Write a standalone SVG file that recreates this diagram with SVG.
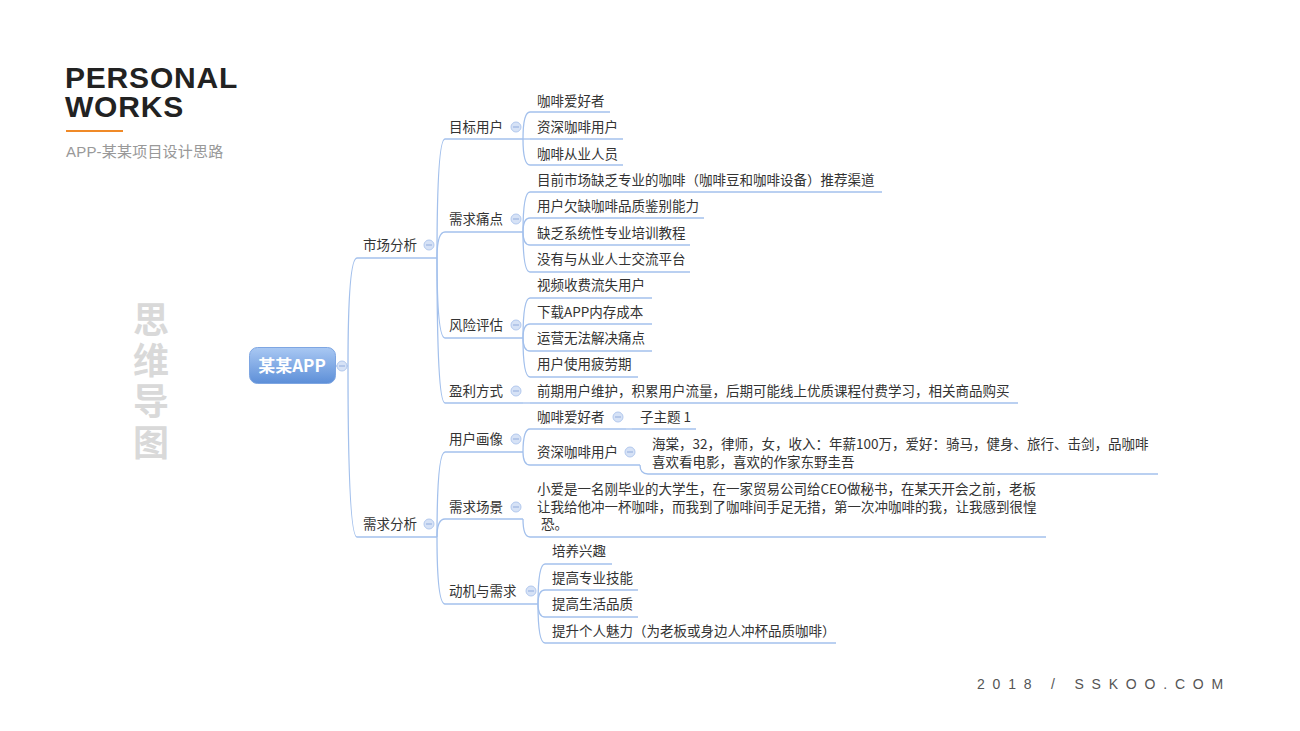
<svg xmlns="http://www.w3.org/2000/svg" width="1300" height="731" viewBox="0 0 1300 731">
<defs>
<linearGradient id="rootGrad" x1="0" y1="0" x2="0" y2="1">
<stop offset="0" stop-color="#a9c8f3"/>
<stop offset="1" stop-color="#5d8fd8"/>
</linearGradient>
<style>
.t{font-family:"Noto Sans CJK SC","Microsoft YaHei",sans-serif;font-size:13.5px;fill:#333}
.ln{fill:none;stroke:#a3c0ec;stroke-width:1.3}
.cc{fill:#d6e2f6;stroke:#b3c9ee;stroke-width:1}
.cm{stroke:#9db6e2;stroke-width:1.2}
</style>
</defs>
<rect width="1300" height="731" fill="#ffffff"/>

<g id="header">
<text x="65" y="88" font-family="Liberation Sans, Arial, sans-serif" font-weight="bold" font-size="30" letter-spacing="0.8" fill="#222">PERSONAL</text>
<text x="65" y="117" font-family="Liberation Sans, Arial, sans-serif" font-weight="bold" font-size="30" letter-spacing="0.8" fill="#222">WORKS</text>
<line x1="66" y1="131" x2="123" y2="131" stroke="#f08a28" stroke-width="2"/>
<text x="66" y="157" font-family="Liberation Sans, 'Noto Sans CJK SC', sans-serif" font-size="15" letter-spacing="0.2" fill="#999">APP-某某项目设计思路</text>
</g>

<g id="side-title">
<text x="151" y="301" writing-mode="vertical-rl" font-family="'Noto Sans CJK SC', sans-serif" font-weight="bold" font-size="36" letter-spacing="5" fill="#d9d9d9">思维导图</text>
</g>

<g id="footer">
<text x="977" y="689" font-family="Liberation Sans, Arial, sans-serif" font-size="14" fill="#555" letter-spacing="7.8">2018 / SSKOO.COM</text>
</g>

<g id="connectors">
<path class="ln" d="M335,366 L348,366"/>
<path class="ln" d="M348,366 Q348,258 357,258"/>
<path class="ln" d="M348,366 Q348,537 357,537"/>
<path class="ln" d="M437,258 Q437,139 445,139"/>
<path class="ln" d="M437,258 Q437,232 445,232"/>
<path class="ln" d="M437,258 Q437,338 445,338"/>
<path class="ln" d="M437,258 Q437,403 445,403"/>
<path class="ln" d="M437,537 Q437,452 445,452"/>
<path class="ln" d="M437,537 Q437,519 445,519"/>
<path class="ln" d="M437,537 Q437,604 445,604"/>
<path class="ln" d="M523,139 Q523,112 530,112"/>
<path class="ln" d="M523,139 L530,139"/>
<path class="ln" d="M523,139 Q523,165 530,165"/>
<path class="ln" d="M523,232 Q523,192 530,192"/>
<path class="ln" d="M523,232 Q523,218 530,218"/>
<path class="ln" d="M523,232 Q523,245 530,245"/>
<path class="ln" d="M523,232 Q523,272 530,272"/>
<path class="ln" d="M523,338 Q523,298 530,298"/>
<path class="ln" d="M523,338 Q523,324 530,324"/>
<path class="ln" d="M523,338 Q523,351 530,351"/>
<path class="ln" d="M523,338 Q523,377 530,377"/>
<path class="ln" d="M523,403 L530,403"/>
<path class="ln" d="M523,452 Q523,429 530,429"/>
<path class="ln" d="M523,452 Q523,465 530,465"/>
<path class="ln" d="M523,519 Q523,537 530,537"/>
<path class="ln" d="M538,604 Q538,564 545,564"/>
<path class="ln" d="M538,604 Q538,590 545,590"/>
<path class="ln" d="M538,604 Q538,617 545,617"/>
<path class="ln" d="M538,604 Q538,643 545,643"/>
<path class="ln" d="M626,429 L632,429"/>
<path class="ln" d="M640,465 Q640,474 648,474"/>
</g>

<g id="root">
<rect x="249.5" y="347.5" width="86" height="36" rx="8" fill="url(#rootGrad)" stroke="#7ea6e2"/>
<text x="292" y="372" text-anchor="middle" font-family="'Noto Sans CJK SC', sans-serif" font-weight="bold" font-size="17" fill="#fff">某某APP</text>
<circle class="cc" cx="342" cy="366" r="5"/><line class="cm" x1="339" y1="366" x2="345" y2="366"/>
</g>

<g id="n-market">
<text class="t" x="363" y="250">市场分析</text>
<path class="ln" d="M357,258 L437,258"/>
<circle class="cc" cx="429" cy="245" r="5"/><line class="cm" x1="426" y1="245" x2="432" y2="245"/>
</g>
<g id="n-demand">
<text class="t" x="363" y="529">需求分析</text>
<path class="ln" d="M357,537 L437,537"/>
<circle class="cc" cx="429" cy="524" r="5"/><line class="cm" x1="426" y1="524" x2="432" y2="524"/>
</g>

<g id="n-target">
<text class="t" x="449" y="132">目标用户</text>
<path class="ln" d="M445,139 L523,139"/>
<circle class="cc" cx="516" cy="127" r="5"/><line class="cm" x1="513" y1="127" x2="519" y2="127"/>
</g>
<g id="n-pain">
<text class="t" x="449" y="224">需求痛点</text>
<path class="ln" d="M445,232 L523,232"/>
<circle class="cc" cx="516" cy="219" r="5"/><line class="cm" x1="513" y1="219" x2="519" y2="219"/>
</g>
<g id="n-risk">
<text class="t" x="449" y="330">风险评估</text>
<path class="ln" d="M445,338 L523,338"/>
<circle class="cc" cx="516" cy="325" r="5"/><line class="cm" x1="513" y1="325" x2="519" y2="325"/>
</g>
<g id="n-profit">
<text class="t" x="449" y="396">盈利方式</text>
<path class="ln" d="M445,403 L523,403"/>
<circle class="cc" cx="516" cy="391" r="5"/><line class="cm" x1="513" y1="391" x2="519" y2="391"/>
</g>
<g id="n-persona">
<text class="t" x="449" y="444">用户画像</text>
<path class="ln" d="M445,452 L523,452"/>
<circle class="cc" cx="516" cy="439" r="5"/><line class="cm" x1="513" y1="439" x2="519" y2="439"/>
</g>
<g id="n-scene">
<text class="t" x="449" y="512">需求场景</text>
<path class="ln" d="M445,519 L523,519"/>
<circle class="cc" cx="516" cy="507" r="5"/><line class="cm" x1="513" y1="507" x2="519" y2="507"/>
</g>
<g id="n-motive">
<text class="t" x="449" y="596">动机与需求</text>
<path class="ln" d="M445,604 L538,604"/>
<circle class="cc" cx="531" cy="591" r="5"/><line class="cm" x1="528" y1="591" x2="534" y2="591"/>
</g>

<g id="t1"><text class="t" x="537" y="106">咖啡爱好者</text><path class="ln" d="M530,112 L610,112"/></g>
<g id="t2"><text class="t" x="537" y="132">资深咖啡用户</text><path class="ln" d="M530,139 L623,139"/></g>
<g id="t3"><text class="t" x="537" y="159">咖啡从业人员</text><path class="ln" d="M530,165 L623,165"/></g>

<g id="p1"><text class="t" x="537" y="185">目前市场缺乏专业的咖啡（咖啡豆和咖啡设备）推荐渠道</text><path class="ln" d="M530,192 L882,192"/></g>
<g id="p2"><text class="t" x="537" y="211">用户欠缺咖啡品质鉴别能力</text><path class="ln" d="M530,218 L704,218"/></g>
<g id="p3"><text class="t" x="537" y="238">缺乏系统性专业培训教程</text><path class="ln" d="M530,245 L690,245"/></g>
<g id="p4"><text class="t" x="537" y="264">没有与从业人士交流平台</text><path class="ln" d="M530,272 L690,272"/></g>

<g id="r1"><text class="t" x="537" y="290">视频收费流失用户</text><path class="ln" d="M530,298 L652,298"/></g>
<g id="r2"><text class="t" x="537" y="317">下载APP内存成本</text><path class="ln" d="M530,324 L652,324"/></g>
<g id="r3"><text class="t" x="537" y="343">运营无法解决痛点</text><path class="ln" d="M530,351 L652,351"/></g>
<g id="r4"><text class="t" x="537" y="369">用户使用疲劳期</text><path class="ln" d="M530,377 L638,377"/></g>

<g id="m1"><text class="t" x="537" y="396">前期用户维护，积累用户流量，后期可能线上优质课程付费学习，相关商品购买</text><path class="ln" d="M530,403 L1018,403"/></g>

<g id="u1">
<text class="t" x="537" y="422">咖啡爱好者</text>
<path class="ln" d="M530,429 L626,429"/>
<circle class="cc" cx="618" cy="417" r="5"/><line class="cm" x1="615" y1="417" x2="621" y2="417"/>
</g>
<g id="u1a"><text class="t" x="640" y="422">子主题 1</text><path class="ln" d="M632,429 L696,429"/></g>
<g id="u2">
<text class="t" x="537" y="457">资深咖啡用户</text>
<path class="ln" d="M530,465 L640,465"/>
<circle class="cc" cx="630" cy="452" r="5"/><line class="cm" x1="627" y1="452" x2="633" y2="452"/>
</g>
<g id="u2a">
<text class="t" x="652" y="449">海棠，32，律师，女，收入：年薪100万，爱好：骑马，健身、旅行、击剑，品咖啡<tspan x="652" dy="18">喜欢看电影，喜欢的作家东野圭吾</tspan></text>
<path class="ln" d="M648,474 L1158,474"/>
</g>

<g id="s1">
<text class="t" x="537" y="494">小爱是一名刚毕业的大学生，在一家贸易公司给CEO做秘书，在某天开会之前，老板<tspan x="537" dy="18">让我给他冲一杯咖啡，而我到了咖啡间手足无措，第一次冲咖啡的我，让我感到很惶</tspan><tspan x="541" dy="17">恐。</tspan></text>
<path class="ln" d="M530,537 L1046,537"/>
</g>

<g id="d1"><text class="t" x="552" y="556">培养兴趣</text><path class="ln" d="M545,564 L612,564"/></g>
<g id="d2"><text class="t" x="552" y="583">提高专业技能</text><path class="ln" d="M545,590 L638,590"/></g>
<g id="d3"><text class="t" x="552" y="609">提高生活品质</text><path class="ln" d="M545,617 L638,617"/></g>
<g id="d4"><text class="t" x="552" y="636">提升个人魅力（为老板或身边人冲杯品质咖啡）</text><path class="ln" d="M545,643 L836,643"/></g>
</svg>
